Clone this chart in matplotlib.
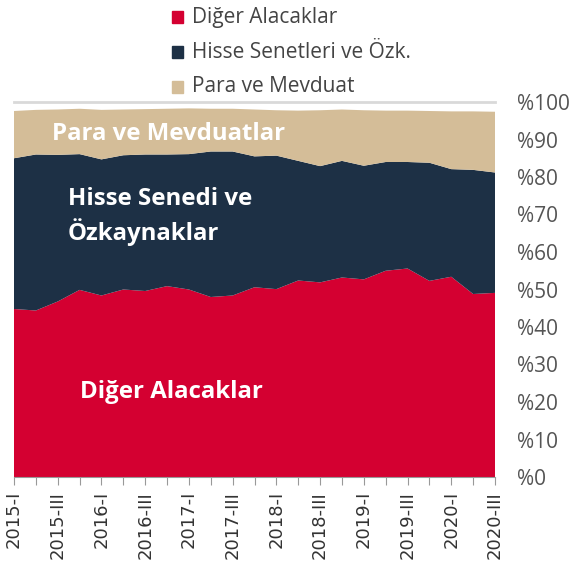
"""Stacked area chart of asset composition (quarterly shares)."""

import matplotlib
matplotlib.use("Agg")
import matplotlib.pyplot as plt
import numpy as np

quarters = [f"{y}-{q}" for y in range(2015, 2021) for q in ("I", "II", "III", "IV")][:23]

# shares in percent
diger = [44.8, 44.4, 46.8, 49.9, 48.4, 50.0, 49.6, 50.9, 50.0, 48.0, 48.4, 50.6,
         50.1, 52.4, 51.9, 53.2, 52.7, 55.0, 55.6, 52.3, 53.4, 48.8, 49.1]
hisse_top = [85.0, 86.0, 85.9, 86.1, 84.7, 85.8, 86.0, 86.0, 86.1, 86.8, 86.8, 85.5,
             85.7, 84.3, 82.9, 84.3, 83.0, 84.0, 84.0, 83.8, 82.1, 81.9, 81.2]
toplam = [97.6, 97.9, 98.0, 98.2, 97.9, 98.0, 98.1, 98.2, 98.3, 98.2, 98.2, 98.0,
          97.8, 97.7, 97.8, 98.0, 97.8, 97.7, 97.7, 97.6, 97.5, 97.5, 97.4]

hisse = [t - d for t, d in zip(hisse_top, diger)]
para = [t - h for t, h in zip(toplam, hisse_top)]

series_names = ["Diğer Alacaklar", "Hisse Senetleri ve Özk.", "Para ve Mevduat"]
colors = ["#D40031", "#1D3045", "#D4BD98"]

plt.rcParams["font.family"] = ["Open Sans", "DejaVu Sans"]

fig = plt.figure(figsize=(5.71, 5.69), dpi=100)
ax = fig.add_axes([14 / 571, 92 / 569, 481 / 571, 375 / 569])

x = np.arange(len(quarters))
ax.stackplot(x, diger, hisse, para, colors=colors, linewidth=0)

ax.set_xlim(0, len(quarters) - 1)
ax.set_ylim(0, 100)
ax.axhline(100, color="#d9d9d9", lw=2, clip_on=False)

for s in ax.spines.values():
    s.set_visible(False)
ax.spines["bottom"].set_visible(True)
ax.spines["bottom"].set_color("#999999")

ax.set_xticks(x)
ax.set_xticklabels([q if i % 2 == 0 else "" for i, q in enumerate(quarters)],
                   rotation=90, fontsize=13, color="#333333",
                   family=["DejaVu Sans"])
ax.tick_params(axis="x", length=6, color="#999999", pad=4)

ax.yaxis.tick_right()
ax.set_yticks(range(0, 101, 10))
ax.set_yticklabels([f"%{v}" for v in range(0, 101, 10)], fontsize=15, color="#555555")
ax.tick_params(axis="y", length=0, pad=15.5)

txt = dict(color="white", fontweight="bold", fontsize=17.3)
ax.text(1.75, 91.6, "Para ve Mevduatlar", va="center", **txt)
ax.text(2.45, 69.5, "Hisse Senedi ve\nÖzkaynaklar", va="center", linespacing=1.3, **txt)
ax.text(3.0, 22.7, "Diğer Alacaklar", va="center", **txt)

# legend drawn as squares + text above the plot
for i, (name, c) in enumerate(zip(series_names, colors)):
    yy = 1 - (17 + 35 * i) / 569
    fig.patches.append(plt.Rectangle((172 / 571, yy - 6 / 569), 11 / 571, 12 / 569,
                                     transform=fig.transFigure, color=c))
    fig.text(192 / 571, yy, name, va="center", fontsize=15, color="#444444")

fig.savefig("out.png", dpi=100)
plt.close(fig)
